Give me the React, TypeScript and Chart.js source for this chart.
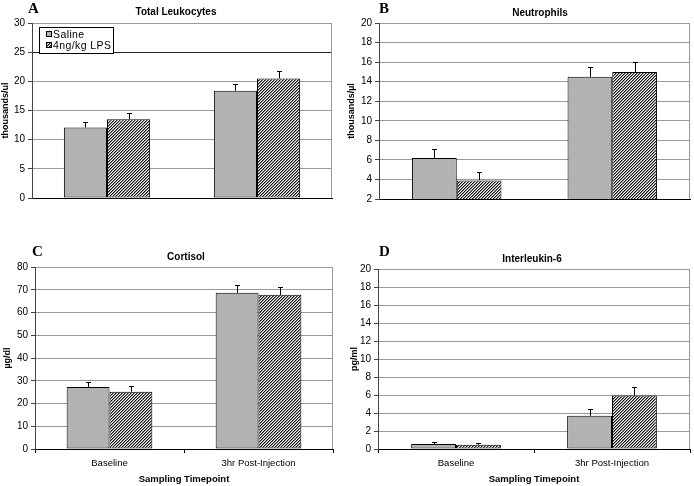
import React, { useEffect, useRef } from "react";
import { Chart, registerables } from "chart.js";

Chart.register(...registerables);

const FONT = "'Liberation Sans', Arial, sans-serif";
Chart.defaults.font.family = FONT;
Chart.defaults.color = "#000";

// ---------- data ----------
const categories = ["Baseline", "3hr Post-Injection"];
const seriesNames = ["Saline", "4ng/kg LPS"];
const xAxisTitle = "Sampling Timepoint";

const leukSaline = [12.1, 18.4];
const leukSalineErr = [0.9, 1.1];
const leukLps = [13.5, 20.5];
const leukLpsErr = [1.0, 1.2];

const neutSaline = [6.2, 14.5];
const neutSalineErr = [0.95, 1.0];
const neutLps = [3.9, 15.0];
const neutLpsErr = [0.9, 1.05];

const cortSaline = [27.3, 68.7];
const cortSalineErr = [2.3, 3.5];
const cortLps = [25.2, 67.8];
const cortLpsErr = [2.5, 3.5];

const il6Saline = [0.55, 3.7];
const il6SalineErr = [0.22, 0.75];
const il6Lps = [0.48, 5.95];
const il6LpsErr = [0.2, 0.9];

// ---------- panel layout ----------
type PanelCfg = {
  letter: string;
  title: string;
  yTitle: string;
  saline: number[];
  salineErr: number[];
  lps: number[];
  lpsErr: number[];
  yMin: number;
  yMax: number;
  yStep: number;
  darkGrid?: number;
  showX: boolean;
  legend: boolean;
  left: number;
  top: number;
  width: number;
  height: number;
  padTop: number;
  padRight: number;
  yWidth: number;
  xHeight: number;
  yTitlePad: number;
  titleX: number;
  titleY: number;
  letterX: number;
  letterY: number;
};

const panels: PanelCfg[] = [
  {
    letter: "A", title: "Total Leukocytes", yTitle: "thousands/ul",
    saline: leukSaline, salineErr: leukSalineErr, lps: leukLps, lpsErr: leukLpsErr,
    yMin: 0, yMax: 30, yStep: 5, darkGrid: 25, showX: false, legend: true,
    left: 0, top: 0, width: 347, height: 220,
    padTop: 23, padRight: 15, yWidth: 32, xHeight: 22, yTitlePad: 0,
    titleX: 176, titleY: 15, letterX: 28, letterY: 13,
  },
  {
    letter: "B", title: "Neutrophils", yTitle: "thousands/\u00b5l",
    saline: neutSaline, salineErr: neutSalineErr, lps: neutLps, lpsErr: neutLpsErr,
    yMin: 2, yMax: 20, yStep: 2, showX: false, legend: false,
    left: 347, top: 0, width: 347, height: 220,
    padTop: 23, padRight: 4, yWidth: 32, xHeight: 21, yTitlePad: -1,
    titleX: 193, titleY: 16, letterX: 32, letterY: 13,
  },
  {
    letter: "C", title: "Cortisol", yTitle: "\u00b5g/dl",
    saline: cortSaline, salineErr: cortSalineErr, lps: cortLps, lpsErr: cortLpsErr,
    yMin: 0, yMax: 80, yStep: 10, showX: true, legend: false,
    left: 0, top: 230, width: 347, height: 256,
    padTop: 37, padRight: 14, yWidth: 35, xHeight: 37, yTitlePad: 2,
    titleX: 186, titleY: 30, letterX: 32, letterY: 26,
  },
  {
    letter: "D", title: "Interleukin-6", yTitle: "pg/ml",
    saline: il6Saline, salineErr: il6SalineErr, lps: il6Lps, lpsErr: il6LpsErr,
    yMin: 0, yMax: 20, yStep: 2, showX: true, legend: false,
    left: 347, top: 230, width: 347, height: 256,
    padTop: 39, padRight: 4, yWidth: 31, xHeight: 37, yTitlePad: 2,
    titleX: 185, titleY: 32, letterX: 32, letterY: 26,
  },
];

const SALINE_FILL = "#b2b2b2";

function makeHatch(): CanvasPattern | string {
  const n = 3;
  const c = document.createElement("canvas");
  c.width = n;
  c.height = n;
  const g = c.getContext("2d");
  if (!g) return "#777";
  g.fillStyle = "#fff";
  g.fillRect(0, 0, n, n);
  for (let x = 0; x < n; x++) {
    for (let y = 0; y < n; y++) {
      const m = (x + y) % n;
      if (m === n - 1) {
        g.fillStyle = "#111";
        g.fillRect(x, y, 1, 1);
      } else if (m === 0) {
        g.fillStyle = "#8a8a8a";
        g.fillRect(x, y, 1, 1);
      }
    }
  }
  return g.createPattern(c, "repeat") || "#777";
}

function PanelChart({ p }: { p: PanelCfg }) {
  const ref = useRef<HTMLCanvasElement | null>(null);
  useEffect(() => {
    if (!ref.current) return;
    const hatch = makeHatch();

    const errorBars = {
      id: "errorBars",
      afterDatasetsDraw(chart: any) {
        const { ctx } = chart;
        const ys = chart.scales.y;
        const errs = [p.salineErr, p.lpsErr];
        ctx.save();
        ctx.strokeStyle = "#000";
        ctx.lineWidth = 1;
        chart.data.datasets.forEach((ds: any, i: number) => {
          const meta = chart.getDatasetMeta(i);
          meta.data.forEach((bar: any, j: number) => {
            const v = ds.data[j];
            const e = errs[i][j];
            const x = Math.round(bar.x) + 0.5;
            const y0 = ys.getPixelForValue(v);
            const y1 = Math.round(ys.getPixelForValue(v + e)) + 0.5;
            ctx.beginPath();
            ctx.moveTo(x, y0);
            ctx.lineTo(x, y1);
            ctx.moveTo(x - 2.5, y1);
            ctx.lineTo(x + 2.5, y1);
            ctx.stroke();
          });
        });
        ctx.restore();
      },
    };

    const deco = {
      id: "panelDeco",
      beforeDatasetsDraw(chart: any) {
        const { ctx, chartArea: a } = chart;
        ctx.save();
        ctx.strokeStyle = "#999";
        ctx.lineWidth = 1;
        const x = Math.round(a.right) - 0.5;
        ctx.beginPath();
        ctx.moveTo(x, Math.round(a.top) + 0.5);
        ctx.lineTo(x, a.bottom);
        ctx.stroke();
        ctx.restore();
      },
      afterDraw(chart: any) {
        const { ctx, chartArea: a } = chart;
        ctx.save();
        // panel letter
        ctx.fillStyle = "#000";
        ctx.textBaseline = "alphabetic";
        ctx.textAlign = "left";
        ctx.font = "bold 15px 'Liberation Serif', 'Times New Roman', serif";
        ctx.fillText(p.letter, p.letterX, p.letterY);
        // chart title
        ctx.textAlign = "center";
        ctx.font = `bold 10px ${FONT}`;
        ctx.fillText(p.title, p.titleX, p.titleY);
        // legend
        if (p.legend) {
          const lx = Math.round(a.left) + 7;
          const ly = Math.round(a.top) + 4;
          const lw = 74;
          const lh = 26;
          ctx.fillStyle = "#fff";
          ctx.fillRect(lx, ly, lw, lh);
          ctx.strokeStyle = "#000";
          ctx.lineWidth = 1;
          ctx.strokeRect(lx + 0.5, ly + 0.5, lw, lh);
          const fills = [SALINE_FILL, hatch];
          ctx.font = `10.5px ${FONT}`;
          try {
            (ctx as any).letterSpacing = "0.4px";
          } catch (e) {}
          ctx.textAlign = "left";
          ctx.textBaseline = "middle";
          seriesNames.forEach((name, i) => {
            const cy = ly + 7 + i * 11;
            ctx.fillStyle = fills[i] as any;
            ctx.fillRect(lx + 7, cy - 3, 6, 6);
            ctx.strokeStyle = "#000";
            ctx.strokeRect(lx + 7.5, cy - 2.5, 5, 5);
            ctx.fillStyle = "#000";
            ctx.fillText(name, lx + 14, cy + 1);
          });
        }
        ctx.restore();
      },
    };

    const chart = new Chart(ref.current, {
      type: "bar",
      data: {
        labels: categories,
        datasets: [
          {
            label: seriesNames[0],
            data: p.saline,
            backgroundColor: SALINE_FILL,
            borderColor: "#000",
            borderWidth: 1,
            borderSkipped: false,
            categoryPercentage: 0.575,
            barPercentage: 1,
          },
          {
            label: seriesNames[1],
            data: p.lps,
            backgroundColor: hatch as any,
            borderColor: "#000",
            borderWidth: 1,
            borderSkipped: false,
            categoryPercentage: 0.575,
            barPercentage: 1,
          },
        ],
      },
      options: {
        animation: false,
        responsive: false,
        maintainAspectRatio: false,
        layout: { padding: { top: p.padTop, right: p.padRight, left: 0, bottom: 0 } },
        plugins: {
          legend: { display: false },
          title: { display: false },
          tooltip: { enabled: false },
        },
        scales: {
          x: {
            grid: {
              display: p.showX,
              drawOnChartArea: false,
              drawTicks: true,
              tickLength: 4,
              color: "#000",
              tickColor: "#000",
              offset: true,
            },
            border: { display: true, color: "#000", width: 1 },
            ticks: {
              display: p.showX,
              font: { size: 9.5, family: FONT },
              color: "#000",
              padding: 5,
              maxRotation: 0,
            },
            title: {
              display: p.showX,
              text: xAxisTitle,
              font: { size: 9.5, weight: "bold", family: FONT },
              color: "#000",
              padding: { top: 0, bottom: 1.3 },
            },
            afterFit: (s: any) => {
              s.height = p.xHeight;
            },
          },
          y: {
            min: p.yMin,
            max: p.yMax,
            ticks: {
              stepSize: p.yStep,
              font: { size: 10, family: FONT },
              color: "#000",
              padding: 3,
            },
            grid: {
              color: (c: any) =>
                p.darkGrid !== undefined && c.tick && c.tick.value === p.darkGrid ? "#222" : "#999",
              tickColor: "#444",
              tickLength: 4,
              drawTicks: true,
            },
            border: { display: true, color: "#444", width: 1 },
            title: {
              display: true,
              text: p.yTitle,
              font: { size: 9, weight: "bold", family: FONT },
              color: "#000",
              padding: { top: p.yTitlePad, bottom: 0 },
            },
            afterFit: (s: any) => {
              s.width = p.yWidth;
            },
          },
        },
      } as any,
      plugins: [errorBars, deco],
    });
    return () => chart.destroy();
  }, [p]);

  return (
    <canvas
      ref={ref}
      width={p.width}
      height={p.height}
      style={{
        position: "absolute",
        left: p.left,
        top: p.top,
        width: p.width,
        height: p.height,
      }}
    />
  );
}

export default function App() {
  return (
    <div
      style={{
        position: "fixed",
        left: 0,
        top: 0,
        width: 694,
        height: 486,
        background: "#fff",
        overflow: "hidden",
      }}
    >
      {panels.map((p) => (
        <PanelChart key={p.letter} p={p} />
      ))}
    </div>
  );
}
